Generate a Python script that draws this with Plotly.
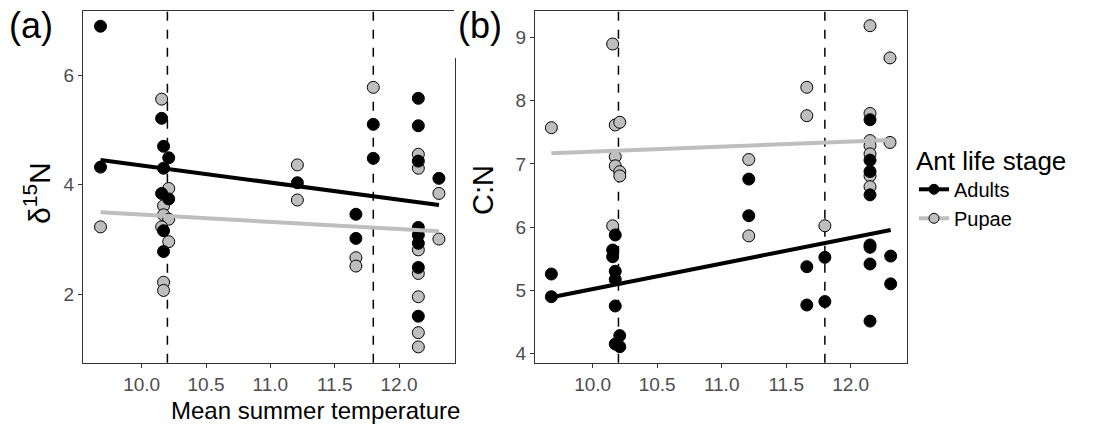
import plotly.graph_objects as go

# ---------------- data ----------------
# Panel (a): delta 15N
a_adult_x = [9.68, 9.68, 10.155, 10.17, 10.21, 10.17, 10.155, 10.21, 10.17, 10.17,
             11.21, 11.665, 11.665, 11.80, 11.80,
             12.15, 12.15, 12.15, 12.15, 12.15, 12.15, 12.15, 12.15, 12.31]
a_adult_y = [6.89, 4.32, 5.21, 4.70, 4.49, 4.30, 3.84, 3.74, 3.16, 2.78,
             4.035, 3.46, 3.02, 5.10, 4.48,
             5.575, 5.075, 4.43, 3.22, 3.08, 2.93, 2.49, 1.60, 4.115]
a_pupa_x = [9.68, 10.155, 10.21, 10.17, 10.17, 10.21, 10.155, 10.21, 10.17, 10.17,
            11.21, 11.21, 11.665, 11.665, 11.80,
            12.15, 12.15, 12.15, 12.15, 12.15, 12.15, 12.15, 12.31, 12.31]
a_pupa_y = [3.23, 5.56, 3.93, 3.615, 3.45, 3.37, 3.23, 2.96, 2.22, 2.07,
            4.36, 3.72, 2.667, 2.515, 5.775,
            4.553, 4.30, 2.81, 2.38, 1.955, 1.30, 1.04, 3.84, 3.007]

# Panel (b): C:N
b_adult_x = [9.68, 9.68, 10.175, 10.155, 10.155, 10.175, 10.175, 10.175, 10.21, 10.175, 10.21,
             11.21, 11.21, 11.66, 11.66, 11.80, 11.80,
             12.15, 12.15, 12.15, 12.15, 12.15, 12.15, 12.15, 12.15, 12.31, 12.31]
b_adult_y = [5.256, 4.897, 5.874, 5.636, 5.53, 5.30, 5.17, 4.75, 4.28, 4.147, 4.105,
             6.76, 6.18, 5.372, 4.765, 5.52, 4.82,
             7.70, 7.06, 6.88, 6.51, 5.716, 5.68, 5.415, 4.51, 5.54, 5.10]
b_pupa_x = [9.68, 10.155, 10.175, 10.21, 10.175, 10.175, 10.21, 10.21, 10.155,
            11.21, 11.21, 11.66, 11.66, 11.80,
            12.15, 12.15, 12.15, 12.15, 12.15, 12.15, 12.15, 12.305, 12.305]
b_pupa_y = [7.574, 8.90, 7.617, 7.66, 7.115, 6.97, 6.877, 6.81, 6.02,
            7.07, 5.86, 8.214, 7.764, 6.02,
            9.19, 7.80, 7.37, 7.29, 7.16, 6.81, 6.64, 8.68, 7.34]

# fitted lines (end points)
fit_x = [9.68, 12.31]
a_fit_adult = [4.45, 3.63]
a_fit_pupa = [3.495, 3.15]
b_fit_adult = [4.887, 5.953]
b_fit_pupa = [7.17, 7.38]

ref_temps = [10.2, 11.8]
x_ticks = [10.0, 10.5, 11.0, 11.5, 12.0]
a_y_ticks = [2, 4, 6]
b_y_ticks = [4, 5, 6, 7, 8, 9]

# ---------------- styling ----------------
W, H = 1106, 434
BLACK = "#000000"
GREY = "#bebebe"
FRAME = "#333333"
TICKC = "#4d4d4d"
SANS = "Liberation Sans, Arial, sans-serif"

def px(v):
    return v / W

def py(v):
    return 1 - v / H

fig = go.Figure()

def add_panel(xa, ya, ax_y, ax_x, pu_y, pu_x, fit_ad, fit_pu):
    fig.add_trace(go.Scatter(x=pu_x, y=pu_y, mode="markers", xaxis=xa, yaxis=ya,
                             marker=dict(size=12, color=GREY, line=dict(color=BLACK, width=1)),
                             showlegend=False, hoverinfo="skip"))
    fig.add_trace(go.Scatter(x=ax_x, y=ax_y, mode="markers", xaxis=xa, yaxis=ya,
                             marker=dict(size=12, color=BLACK, line=dict(color=BLACK, width=1)),
                             showlegend=False, hoverinfo="skip"))
    fig.add_trace(go.Scatter(x=fit_x, y=fit_ad, mode="lines", xaxis=xa, yaxis=ya,
                             line=dict(color=BLACK, width=4), showlegend=False, hoverinfo="skip"))
    fig.add_trace(go.Scatter(x=fit_x, y=fit_pu, mode="lines", xaxis=xa, yaxis=ya,
                             line=dict(color=GREY, width=4), showlegend=False, hoverinfo="skip"))

add_panel("x", "y", a_adult_y, a_adult_x, a_pupa_y, a_pupa_x, a_fit_adult, a_fit_pupa)
add_panel("x2", "y2", b_adult_y, b_adult_x, b_pupa_y, b_pupa_x, b_fit_adult, b_fit_pupa)

# legend-only entries
fig.add_trace(go.Scatter(x=[None], y=[None], mode="lines+markers", name="Adults",
                         line=dict(color=BLACK, width=4),
                         marker=dict(size=10, color=BLACK, line=dict(color=BLACK, width=1))))
fig.add_trace(go.Scatter(x=[None], y=[None], mode="lines+markers", name="Pupae",
                         line=dict(color=GREY, width=4),
                         marker=dict(size=10, color=GREY, line=dict(color=BLACK, width=1))))

# dashed reference temperatures
for xr in ["x", "x2"]:
    for t in ref_temps:
        fig.add_shape(type="line", xref=xr, yref="paper", x0=t, x1=t,
                      y0=py(362.7), y1=py(11), line=dict(color=BLACK, width=1.5, dash="dash"),
                      layer="below")

axis_common = dict(showline=True, mirror=True, linecolor=FRAME, linewidth=1.3,
                   showgrid=False, zeroline=False, ticks="outside", ticklen=4,
                   tickcolor=FRAME, tickwidth=1,
                   tickfont=dict(family=SANS, size=19, color=TICKC))

fig.update_layout(
    width=W, height=H,
    margin=dict(l=0, r=0, t=0, b=0),
    paper_bgcolor="white", plot_bgcolor="white",
    xaxis=dict(domain=[px(83), px(455)], range=[9.544, 12.435], tickvals=x_ticks,
               tickformat=".1f", anchor="y", **axis_common),
    yaxis=dict(domain=[py(362.7), py(11)], range=[0.752, 7.168], tickvals=a_y_ticks,
               anchor="x", **axis_common),
    xaxis2=dict(domain=[px(535), px(907.3)], range=[9.553, 12.439], tickvals=x_ticks,
                tickformat=".1f", anchor="y2", **axis_common),
    yaxis2=dict(domain=[py(362.7), py(11)], range=[3.851, 9.423], tickvals=b_y_ticks,
                anchor="x2", **axis_common),
    legend=dict(x=px(914), y=py(136), xanchor="left", yanchor="top",
                title=dict(text="Ant life stage", font=dict(family=SANS, size=26, color=BLACK)),
                font=dict(family=SANS, size=20, color=BLACK),
                bgcolor="rgba(0,0,0,0)", tracegroupgap=0, itemwidth=30),
    showlegend=True,
)

# white box behind the (b) label that hides the top of panel (a)'s right border
fig.add_shape(type="rect", xref="paper", yref="paper", x0=px(454), x1=px(468),
              y0=py(58), y1=1, fillcolor="white", line=dict(width=0), layer="above")

annots = [
    dict(text="(a)", x=px(7), y=py(25), xanchor="left", yanchor="middle",
         font=dict(family=SANS, size=36, color=BLACK)),
    dict(text="(b)", x=px(456), y=py(25), xanchor="left", yanchor="middle",
         font=dict(family=SANS, size=36, color=BLACK)),
    dict(text="δ<sup>15</sup>N", x=px(37), y=py(193), xanchor="center", yanchor="middle",
         textangle=-90, font=dict(family=SANS, size=30, color=BLACK)),
    dict(text="C:N", x=px(483), y=py(190), xanchor="center", yanchor="middle",
         textangle=-90, font=dict(family=SANS, size=29, color=BLACK)),
    dict(text="Mean summer temperature", x=px(315), y=py(410), xanchor="center",
         yanchor="middle", font=dict(family=SANS, size=24, color=BLACK)),
]
for a in annots:
    fig.add_annotation(xref="paper", yref="paper", showarrow=False, **a)

fig.write_html("out.html", config={"displayModeBar": False},
               post_script="document.body.style.margin='0px';")
